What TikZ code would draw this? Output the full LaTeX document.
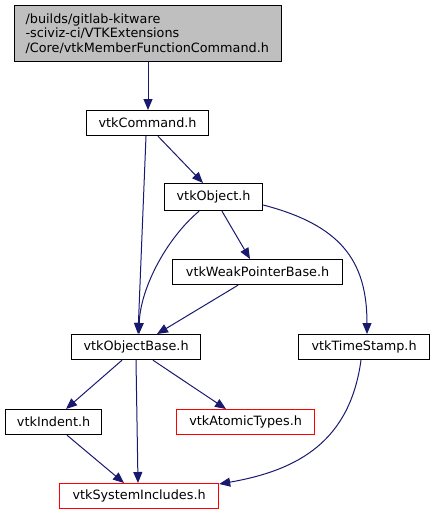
\documentclass[tikz,border=0pt]{standalone}
\usepackage{fontspec}
\setmainfont{DejaVu Sans}
\usetikzlibrary{arrows.meta}
\definecolor{edgeblue}{HTML}{191970}
\definecolor{nodegray}{HTML}{BFBFBF}
\begin{document}
\begin{tikzpicture}[x=1pt,y=-1pt,
  box/.style={draw=black,line width=1.2pt,fill=white,inner sep=0pt,font=\fontsize{12.8}{14.5}\selectfont},
  redbox/.style={box,draw=red},
  edge/.style={draw=edgeblue,line width=1pt,-{Triangle[length=11pt,width=9pt]}}]
\useasboundingbox (0,0) rectangle (435,515);
\node[box,fill=nodegray,minimum width=267pt,minimum height=56pt,anchor=north west,align=left,text width=245pt,inner xsep=11pt] (top) at (14,5)
  {/builds/gitlab-kitware\\-sciviz-ci/VTKExtensions\\/Core/vtkMemberFunctionCommand.h};
\node[box,minimum width=122pt,minimum height=25pt,anchor=north west] (cmd) at (86,110) {vtkCommand.h};
\node[box,minimum width=98pt,minimum height=27pt,anchor=north west] (obj) at (164,183) {vtkObject.h};
\node[box,minimum width=170pt,minimum height=25pt,anchor=north west] (weak) at (172,259) {vtkWeakPointerBase.h};
\node[box,minimum width=129pt,minimum height=25pt,anchor=north west] (base) at (71,334) {vtkObjectBase.h};
\node[box,minimum width=131pt,minimum height=25pt,anchor=north west] (ts) at (298,334) {vtkTimeStamp.h};
\node[box,minimum width=96pt,minimum height=25pt,anchor=north west] (ind) at (5,409) {vtkIndent.h};
\node[redbox,minimum width=138pt,minimum height=25pt,anchor=north west] (atom) at (176,409) {vtkAtomicTypes.h};
\node[redbox,minimum width=159pt,minimum height=25pt,anchor=north west] (sys) at (59,483) {vtkSystemIncludes.h};
\draw[edge] (top.south -| 148,0) -- (cmd.north -| 148,0);
\draw[edge] (cmd.south -| 146,0) -- (base.north -| 138,0);
\draw[edge] (cmd.south -| 158,0) -- (obj.north -| 203,0);
\draw[edge] (obj.south -| 199,0) .. controls (165,240) and (140,290) .. (base.north -| 139,0);
\draw[edge] (obj.south -| 222,0) -- (weak.north -| 250,0);
\draw[edge] (obj.east |- 0,205) .. controls (340,225) and (367,260) .. (ts.north -| 367,0);
\draw[edge] (weak.south -| 238,0) -- (base.north -| 157,0);
\draw[edge] (base.south -| 122,0) -- (ind.north -| 66,0);
\draw[edge] (base.south -| 136,0) -- (sys.north -| 138,0);
\draw[edge] (base.south -| 153,0) -- (atom.north -| 226,0);
\draw[edge] (ind.south -| 67,0) -- (sys.north -| 124,0);
\draw[edge] (ts.south -| 361,0) .. controls (350,440) and (300,470) .. (sys.east |- 0,484);
\end{tikzpicture}
\end{document}
